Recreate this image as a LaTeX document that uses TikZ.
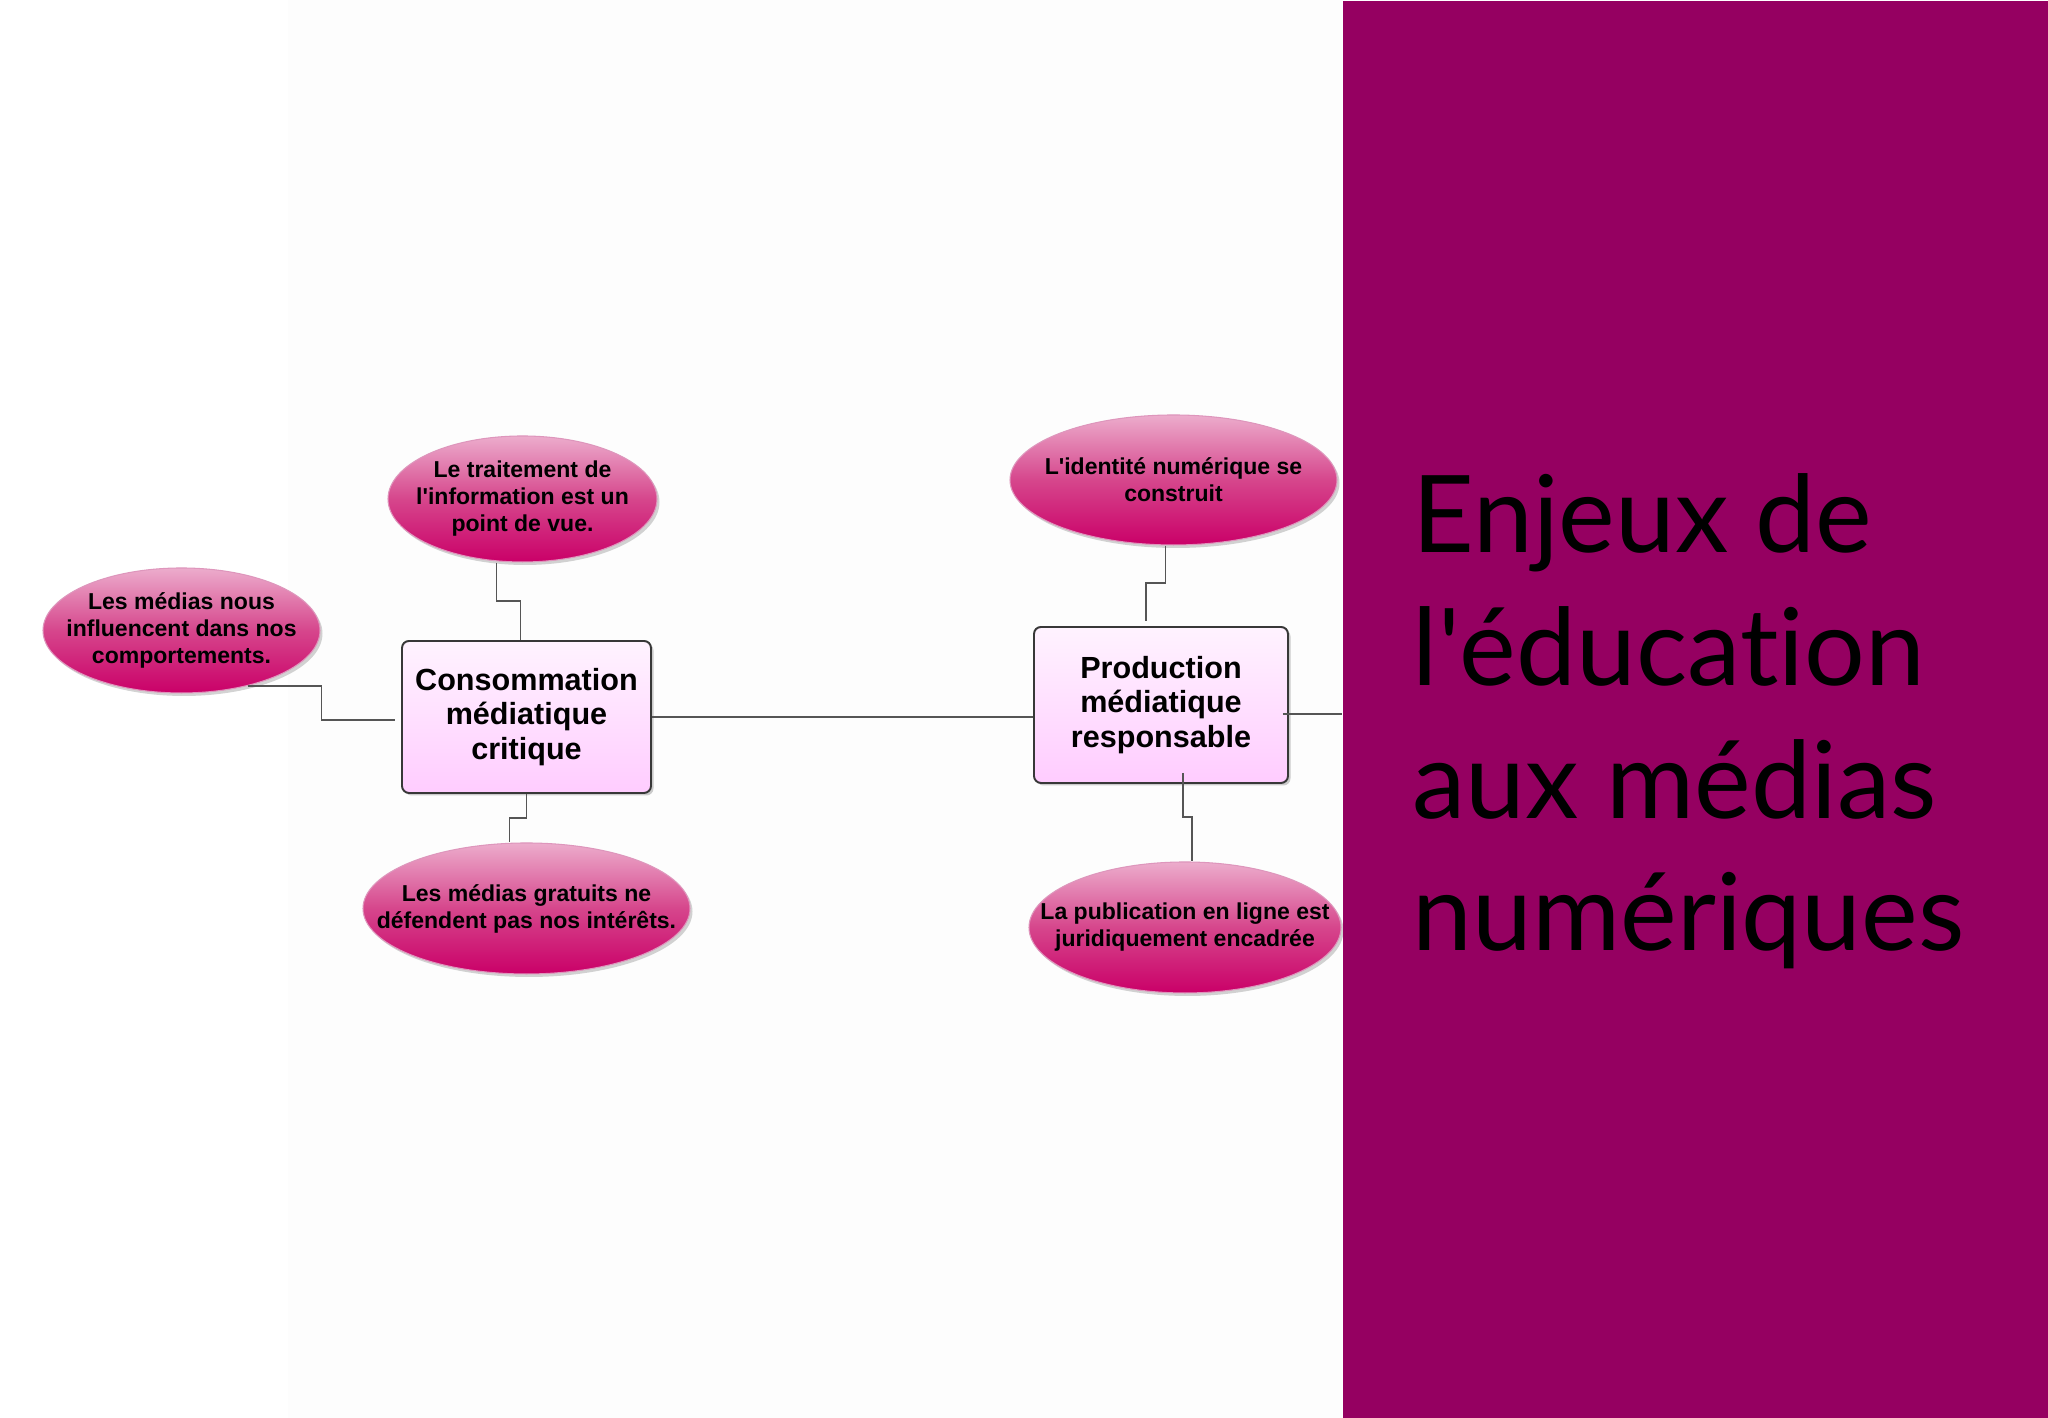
\documentclass[tikz,border=0pt]{standalone}
\usepackage{fontspec}
\setmainfont{Liberation Sans}
\newfontfamily\titrefont{Lato}[Ligatures=NoCommon]
\usetikzlibrary{shapes.geometric,shadows,calc}

\definecolor{prune}{RGB}{149,0,97}
\definecolor{rosehaut}{RGB}{236,172,204}
\definecolor{rosemil}{RGB}{214,70,140}
\definecolor{rosebas}{RGB}{202,0,104}
\definecolor{bordrose}{RGB}{222,150,188}
\definecolor{mauveclair}{RGB}{255,243,255}
\definecolor{mauve}{RGB}{255,204,255}
\definecolor{gristrait}{RGB}{85,85,85}

\begin{document}
\begin{tikzpicture}
\tikzstyle{bulle} = [ellipse, inner sep=0pt, draw=bordrose, line width=0.3pt, top color=rosehaut, bottom color=rosebas, middle color=rosemil, drop shadow={shadow xshift=0.025cm, shadow yshift=-0.03cm, opacity=0.35}] % ellipse
\tikzstyle{bulletxt} = [align=center, inner sep=0pt, font=\fontsize{6.55}{7.7}\selectfont\bfseries] % texte des ellipses
\tikzstyle{cadre} = [rectangle, rounded corners=0.07cm, draw=black!78, line width=0.55pt, top color=mauveclair, bottom color=mauve, align=center, inner sep=0pt, font=\fontsize{8.7}{9.75}\selectfont\bfseries, drop shadow={shadow xshift=0.025cm, shadow yshift=-0.025cm, opacity=0.4}] % boite centrale
\tikzstyle{lien} = [draw=gristrait, line width=0.45pt] % trait
\tikzstyle{coude} = [to path={|- ($(\tikztostart)!.5!(\tikztotarget)$) -| (\tikztotarget)}] % coude vertical
\tikzstyle{coudeh} = [to path={-| ($(\tikztostart)!.5!(\tikztotarget)$) |- (\tikztotarget)}] % coude horizontal

\useasboundingbox (0,0) rectangle (20.48,14.18);
\fill[white!99.4!black] (2.88,0) rectangle (13.42,14.18); % fond

\node[cadre, minimum width=2.49cm, minimum height=1.52cm] (cons) at (5.265,7.01) {Consommation\\médiatique\\critique};
\node[cadre, minimum width=2.54cm, minimum height=1.56cm] (prod) at (11.61,7.13) {Production\\médiatique\\responsable};

\node[bulle, minimum width=2.69cm, minimum height=1.26cm, label={[bulletxt]center:{Le traitement de\\l\textquotesingle information est un\\point de vue.}}] (trait) at (5.225,9.19) {};
\node[bulle, minimum width=2.77cm, minimum height=1.25cm, label={[bulletxt]center:{Les médias nous\\influencent dans nos\\comportements.}}] (influ) at (1.815,7.875) {};
\node[bulle, minimum width=3.27cm, minimum height=1.31cm, label={[bulletxt]center:{Les médias gratuits ne\\défendent pas nos intérêts.}}] (grat) at (5.265,5.095) {};
\node[bulle, minimum width=3.27cm, minimum height=1.30cm, label={[bulletxt]center:{L\textquotesingle identité numérique se\\construit}}] (ident) at (11.735,9.38) {};
\node[bulle, minimum width=3.12cm, minimum height=1.31cm, label={[bulletxt]center:{La publication en ligne est\\juridiquement encadrée}}] (publi) at (11.85,4.905) {};

\draw[lien] ([xshift=-0.26cm]trait.south) to[coude] ([xshift=-0.06cm]cons.north);
\draw[lien] (influ.-40) to[coudeh] ([xshift=-0.06cm,yshift=-0.03cm]cons.west);
\draw[lien] (cons.south) to[coude] ([xshift=-0.17cm]grat.north);
\draw[lien] (cons.east) -- (cons.east -| prod.west);
\draw[lien] ([xshift=-0.08cm]ident.south) to[coude] ([xshift=-0.15cm,yshift=0.05cm]prod.north);
\draw[lien] ([xshift=0.22cm,yshift=0.11cm]prod.south) to[coude] ([xshift=0.07cm]publi.north);

\node[fill=prune, inner sep=0pt, minimum width=7.06cm, minimum height=14.18cm, anchor=north west] (panneau) at (13.42,14.18) {}; % bandeau
\draw[lien] ($(prod.east)+(-0.06,-0.09)$) -- ($(prod.east -| panneau.west)+(0,-0.09)$);

\node[anchor=base west, align=left, inner sep=0pt, font=\titrefont\fontsize{30.5}{37.8}\selectfont] (titre) at (14.12,4.67) {Enjeux de\\l\textquotesingle éducation\\aux médias\\numériques};
\end{tikzpicture}
\end{document}
